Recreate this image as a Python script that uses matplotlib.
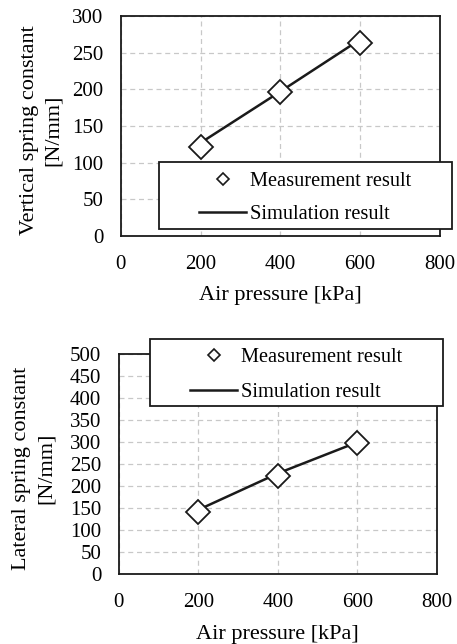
import matplotlib.pyplot as plt
from matplotlib.patches import Rectangle
from matplotlib.lines import Line2D

plt.rcParams["font.family"] = ["Liberation Serif", "DejaVu Serif"]
plt.rcParams["font.size"] = 15

# -----------------------------------------------
# data
# -----------------------------------------------
pressure = [200, 400, 600]
vert_meas = [122, 196, 263]
vert_sim = [127, 197, 268]
lat_meas = [142, 224, 297]
lat_sim = [146, 229, 300]

x_ticks = [0, 200, 400, 600, 800]
vert_ticks = [0, 50, 100, 150, 200, 250, 300]
lat_ticks = [0, 50, 100, 150, 200, 250, 300, 350, 400, 450, 500]

W, H = 457, 644
fig = plt.figure(figsize=(W / 100, H / 100), dpi=100)


def px_rect(x0, y0, x1, y1):
    # pixel box -> figure fraction [left, bottom, width, height]
    return [x0 / W, 1 - y1 / H, (x1 - x0) / W, (y1 - y0) / H]


def draw_panel(rect, meas, sim, ymax, yticks, ylabel, ylab_x, xlab_y, leg_box, leg_space):
    ax = fig.add_axes(rect)
    ax.plot(pressure, sim, color="#1a1a1a", lw=1.8, zorder=3)
    ax.plot(pressure, meas, ls="none", marker="D", ms=12, mfc="white",
            mec="#1a1a1a", mew=1.3, zorder=4)
    ax.set_xlim(0, 800)
    ax.set_ylim(0, ymax)
    ax.set_xticks(x_ticks)
    ax.set_yticks(yticks)
    ax.tick_params(length=0, labelsize=15)
    ax.tick_params(axis="x", pad=13.5)
    ax.tick_params(axis="y", pad=12.5)
    ax.grid(True, ls=(0, (4, 3)), color="#c8c8c8", lw=0.9)
    ax.set_axisbelow(True)
    for s in ax.spines.values():
        s.set_linewidth(1.3)
        s.set_color("#1a1a1a")
    ax.set_xlabel("Air pressure [kPa]", fontsize=16)
    ax.xaxis.set_label_coords(0.5, xlab_y)
    ax.set_ylabel(ylabel, fontsize=16, linespacing=1.4)
    ax.yaxis.set_label_coords(ylab_x, 0.48)

    # legend box
    bx0, by0, bx1, by1 = leg_box
    fr = px_rect(bx0, by0, bx1, by1)
    ax.add_patch(Rectangle((fr[0], fr[1]), fr[2], fr[3], transform=fig.transFigure,
                           facecolor="white", edgecolor="#1a1a1a", lw=1.3,
                           clip_on=False, zorder=4.9))
    handles = [
        Line2D([], [], ls="none", marker="D", ms=6.5, mfc="white", mec="#1a1a1a", mew=1.2),
        Line2D([], [], color="#1a1a1a", lw=1.8),
    ]
    ax.legend(handles, ["Measurement result", "Simulation result"], loc="center",
              bbox_to_anchor=(fr[0] + fr[2] / 2, fr[1] + fr[3] / 2 - 2.5 / H),
              bbox_transform=fig.transFigure, frameon=False, fontsize=14.7,
              handlelength=2.3, handletextpad=0.2, labelspacing=leg_space)
    return ax


draw_panel(px_rect(120.7, 16, 440, 236), vert_meas, vert_sim, 300, vert_ticks,
           "Vertical spring constant\n[N/mm]", -0.18, -0.228, (159, 162, 452, 229), 0.65)
draw_panel(px_rect(118.7, 354.3, 437, 574), lat_meas, lat_sim, 500, lat_ticks,
           "Lateral spring constant\n[N/mm]", -0.197, -0.232, (149.7, 339, 442.7, 405.7), 0.75)

plt.savefig("out.png", dpi=100)
